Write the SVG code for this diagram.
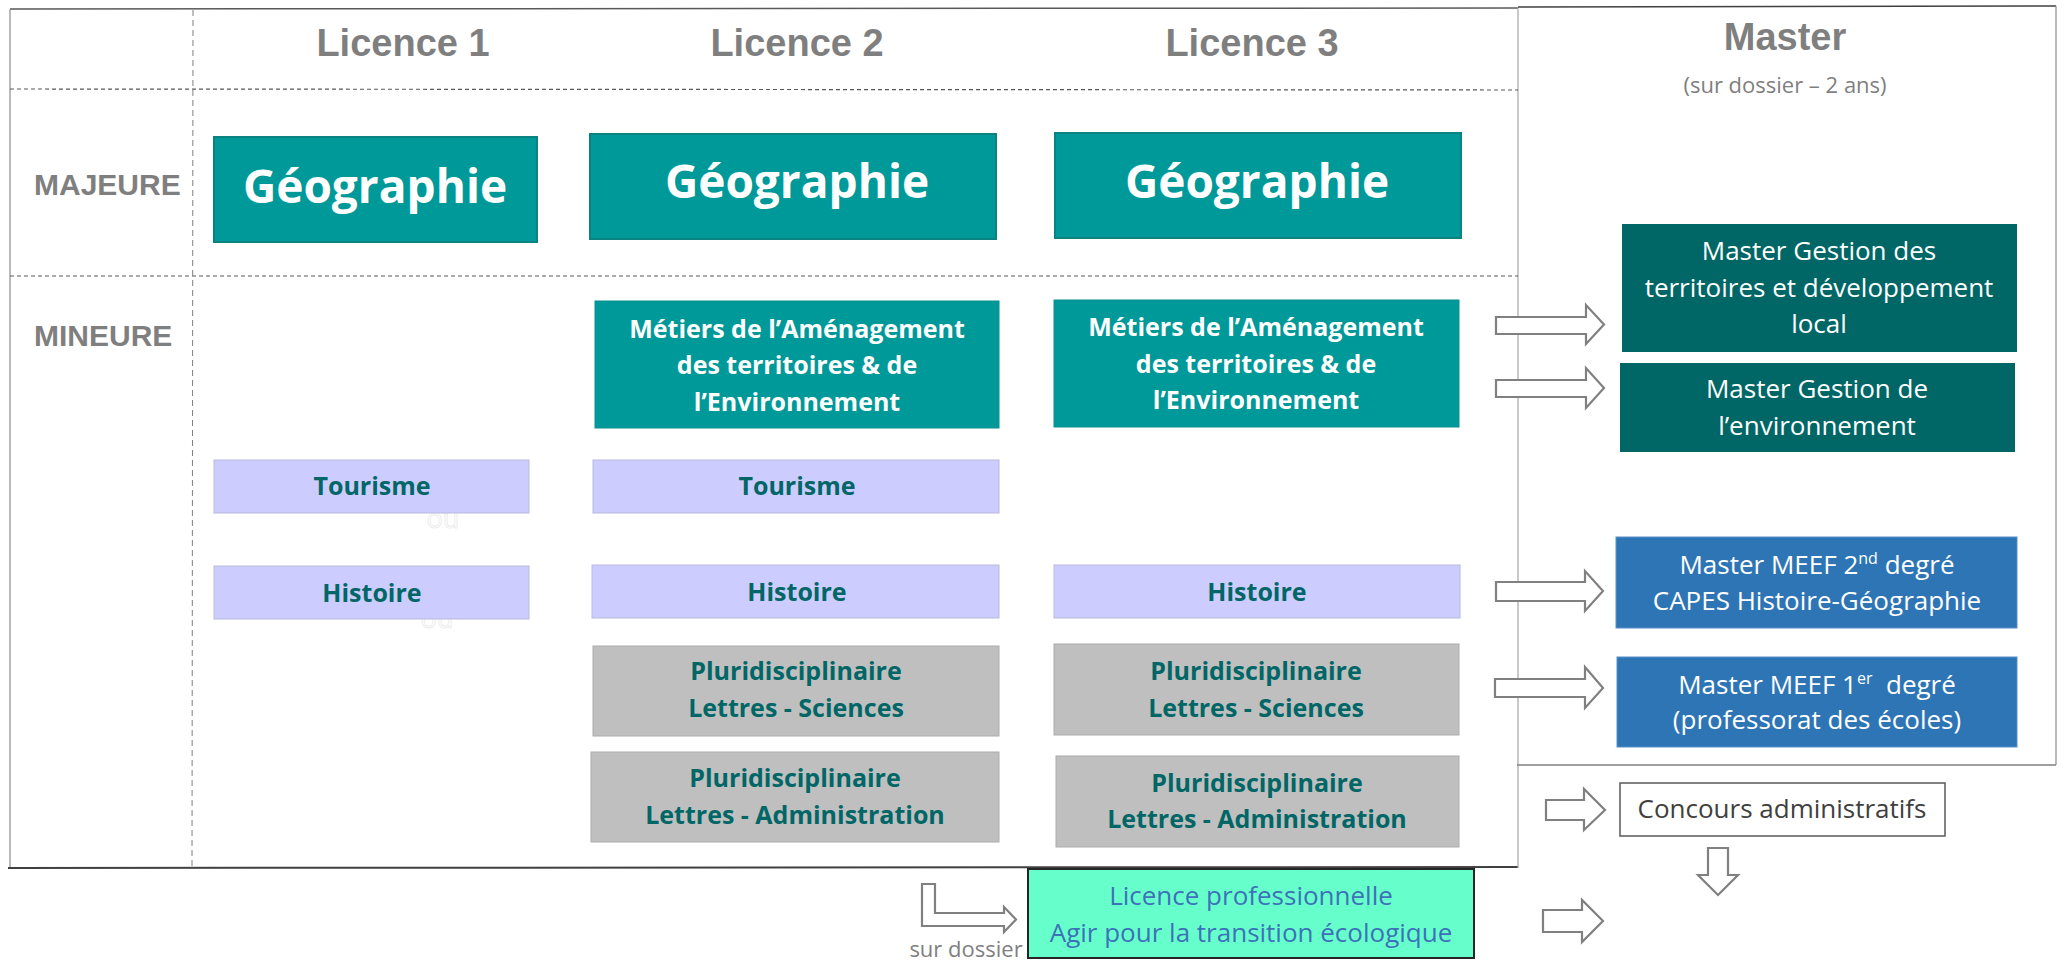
<svg xmlns="http://www.w3.org/2000/svg" width="2065" height="961" viewBox="0 0 2065 961">
<style>
.hdr{font-family:"Liberation Sans",Arial,sans-serif;font-weight:bold;fill:#7f7f7f}
.geo rect{fill:#009999;stroke:#0b8282;stroke-width:2}
.geo text{font-family:"Open Sans",sans-serif;font-weight:bold;fill:#fff;font-size:46px;text-anchor:middle}
.min text{font-family:"Open Sans",sans-serif;font-weight:bold;font-size:25px;text-anchor:middle;fill:#006666}
.teal rect{fill:#009999;stroke:#0b9090;stroke-width:1}
.teal text{fill:#fff}
.lav rect{fill:#ccccff;stroke:#b9b9dd;stroke-width:1}
.gry rect{fill:#bfbfbf;stroke:#acacac;stroke-width:1}
.mst text{font-family:"Open Sans",sans-serif;font-size:26px;text-anchor:middle;fill:#fff}
.dk rect{fill:#006666}
.blu rect{fill:#2e75b6;stroke:#5b8fca;stroke-width:1}
.arrow{fill:#fff;stroke:#808080;stroke-width:2.2;stroke-linejoin:miter}
.note{font-family:"Open Sans",sans-serif;fill:#7f7f7f;text-anchor:middle}
.ou{font-family:"Open Sans",sans-serif;font-size:27px;fill:#fff;stroke:#e4e4e4;stroke-width:0.6;text-anchor:middle}
</style>

<g id="frame">
  <rect x="0" y="0" width="2065" height="961" fill="#fff"/>
  <line x1="10" y1="9" x2="1518" y2="8" stroke="#595959" stroke-width="1.5"/>
  <line x1="10" y1="9" x2="10" y2="868" stroke="#8c8c8c" stroke-width="1.2"/>
  <line x1="8" y1="868" x2="1518" y2="867" stroke="#404040" stroke-width="2"/>
  <line x1="1518" y1="7" x2="1518" y2="868" stroke="#a6a6a6" stroke-width="1.2"/>
  <line x1="1518" y1="7" x2="2056" y2="6" stroke="#404040" stroke-width="1.5"/>
  <line x1="2056" y1="6" x2="2056" y2="765" stroke="#8c8c8c" stroke-width="1.2"/>
  <line x1="1517" y1="765" x2="2056" y2="765" stroke="#7f7f7f" stroke-width="1.5"/>
  <line x1="10" y1="89" x2="1518" y2="90" stroke="#595959" stroke-width="1.2" stroke-dasharray="4 3"/>
  <line x1="10" y1="276" x2="1518" y2="276" stroke="#595959" stroke-width="1.2" stroke-dasharray="4 3"/>
  <line x1="193" y1="10" x2="192" y2="868" stroke="#7f7f7f" stroke-width="1" stroke-dasharray="6 4"/>
</g>

<g id="headers">
  <text class="hdr" x="403" y="56" font-size="38" text-anchor="middle">Licence 1</text>
  <text class="hdr" x="797" y="56" font-size="38" text-anchor="middle">Licence 2</text>
  <text class="hdr" x="1252" y="56" font-size="38" text-anchor="middle">Licence 3</text>
  <text class="hdr" x="1785" y="50" font-size="38" text-anchor="middle">Master</text>
  <text class="note" x="1785" y="93" font-size="22">(sur dossier – 2 ans)</text>
  <text class="hdr" x="34" y="195" font-size="30">MAJEURE</text>
  <text class="hdr" x="34" y="346" font-size="30">MINEURE</text>
</g>

<g id="geo-l1" class="geo"><rect x="214" y="137" width="323" height="105"/><text x="375" y="203">Géographie</text></g>
<g id="geo-l2" class="geo"><rect x="590" y="134" width="406" height="105"/><text x="797" y="198">Géographie</text></g>
<g id="geo-l3" class="geo"><rect x="1055" y="133" width="406" height="105"/><text x="1257" y="198">Géographie</text></g>

<g id="amen-l2" class="min teal"><rect x="595" y="301" width="404" height="127"/>
  <text x="797" y="338">Métiers de l’Aménagement</text><text x="797" y="374">des territoires &amp; de</text><text x="797" y="411">l’Environnement</text></g>
<g id="amen-l3" class="min teal"><rect x="1054" y="300" width="405" height="127"/>
  <text x="1256" y="336">Métiers de l’Aménagement</text><text x="1256" y="373">des territoires &amp; de</text><text x="1256" y="409">l’Environnement</text></g>

<text class="ou" x="443" y="528">ou</text>
<text class="ou" x="437" y="628">ou</text>

<g id="tour-l1" class="min lav"><rect x="214" y="460" width="315" height="53"/><text x="372" y="495">Tourisme</text></g>
<g id="tour-l2" class="min lav"><rect x="593" y="460" width="406" height="53"/><text x="797" y="495">Tourisme</text></g>

<g id="hist-l1" class="min lav"><rect x="214" y="566" width="315" height="53"/><text x="372" y="602">Histoire</text></g>
<g id="hist-l2" class="min lav"><rect x="592" y="565" width="407" height="53"/><text x="797" y="601">Histoire</text></g>
<g id="hist-l3" class="min lav"><rect x="1054" y="565" width="406" height="53"/><text x="1257" y="601">Histoire</text></g>

<g id="plsc-l2" class="min gry"><rect x="593" y="646" width="406" height="90"/><text x="796" y="680">Pluridisciplinaire</text><text x="796" y="717">Lettres - Sciences</text></g>
<g id="plsc-l3" class="min gry"><rect x="1054" y="644" width="405" height="91"/><text x="1256" y="680">Pluridisciplinaire</text><text x="1256" y="717">Lettres - Sciences</text></g>
<g id="plad-l2" class="min gry"><rect x="591" y="752" width="408" height="90"/><text x="795" y="787">Pluridisciplinaire</text><text x="795" y="824">Lettres - Administration</text></g>
<g id="plad-l3" class="min gry"><rect x="1056" y="756" width="403" height="91"/><text x="1257" y="792">Pluridisciplinaire</text><text x="1257" y="828">Lettres - Administration</text></g>

<g id="m-territoires" class="mst dk"><rect x="1622" y="224" width="395" height="128"/>
  <text x="1819" y="260">Master Gestion des</text><text x="1819" y="297">territoires et développement</text><text x="1819" y="333">local</text></g>
<g id="m-environnement" class="mst dk"><rect x="1620" y="363" width="395" height="89"/>
  <text x="1817" y="398">Master Gestion de</text><text x="1817" y="435">l’environnement</text></g>
<g id="m-meef2" class="mst blu"><rect x="1616" y="537" width="401" height="91"/>
  <text x="1817" y="574">Master MEEF 2<tspan font-size="16" dy="-10">nd</tspan><tspan dy="10"> degré</tspan></text><text x="1817" y="610">CAPES Histoire-Géographie</text></g>
<g id="m-meef1" class="mst blu"><rect x="1617" y="657" width="400" height="90"/>
  <text x="1817" y="694" xml:space="preserve">Master MEEF 1<tspan font-size="16" dy="-10">er</tspan><tspan dy="10">  degré</tspan></text><text x="1817" y="729">(professorat des écoles)</text></g>

<g id="concours"><rect x="1620" y="783" width="325" height="53" fill="#fff" stroke="#595959" stroke-width="1.5"/>
  <text x="1782" y="818" font-family="Open Sans, sans-serif" font-size="26" fill="#404040" text-anchor="middle">Concours administratifs</text></g>

<g id="licpro"><rect x="1028" y="869" width="446" height="89" fill="#66ffcc" stroke="#262626" stroke-width="2"/>
  <text x="1251" y="905" font-family="Open Sans, sans-serif" font-size="26" fill="#3d72b8" text-anchor="middle">Licence professionnelle</text>
  <text x="1251" y="942" font-family="Open Sans, sans-serif" font-size="26" fill="#3d72b8" text-anchor="middle">Agir pour la transition écologique</text></g>

<text class="note" x="966" y="957" font-size="22">sur dossier</text>

<g id="connectors">
  <path class="arrow" d="M1496,317 H1586 V305 L1604,324.5 L1586,344 V334 H1496 Z"/>
  <path class="arrow" d="M1496,380 H1586 V368 L1604,388 L1586,408 V397 H1496 Z"/>
  <path class="arrow" d="M1496,582 H1585 V571 L1603,591 L1585,611 V601 H1496 Z"/>
  <path class="arrow" d="M1495,679 H1585 V667 L1603,688 L1585,708 V697 H1495 Z"/>
  <path class="arrow" d="M1546,800 H1584 V789 L1605,810 L1584,830 V820 H1546 Z"/>
  <path class="arrow" d="M1708,848 H1728 V875 H1738 L1718,895 L1698,875 H1708 Z"/>
  <path class="arrow" d="M1543,910 H1582 V900 L1603,921 L1582,942 V932 H1543 Z"/>
  <path class="arrow" d="M922,884 H935 V913 H1004 V907 L1016,919.5 L1004,932 V926 H922 Z"/>
</g>
</svg>
